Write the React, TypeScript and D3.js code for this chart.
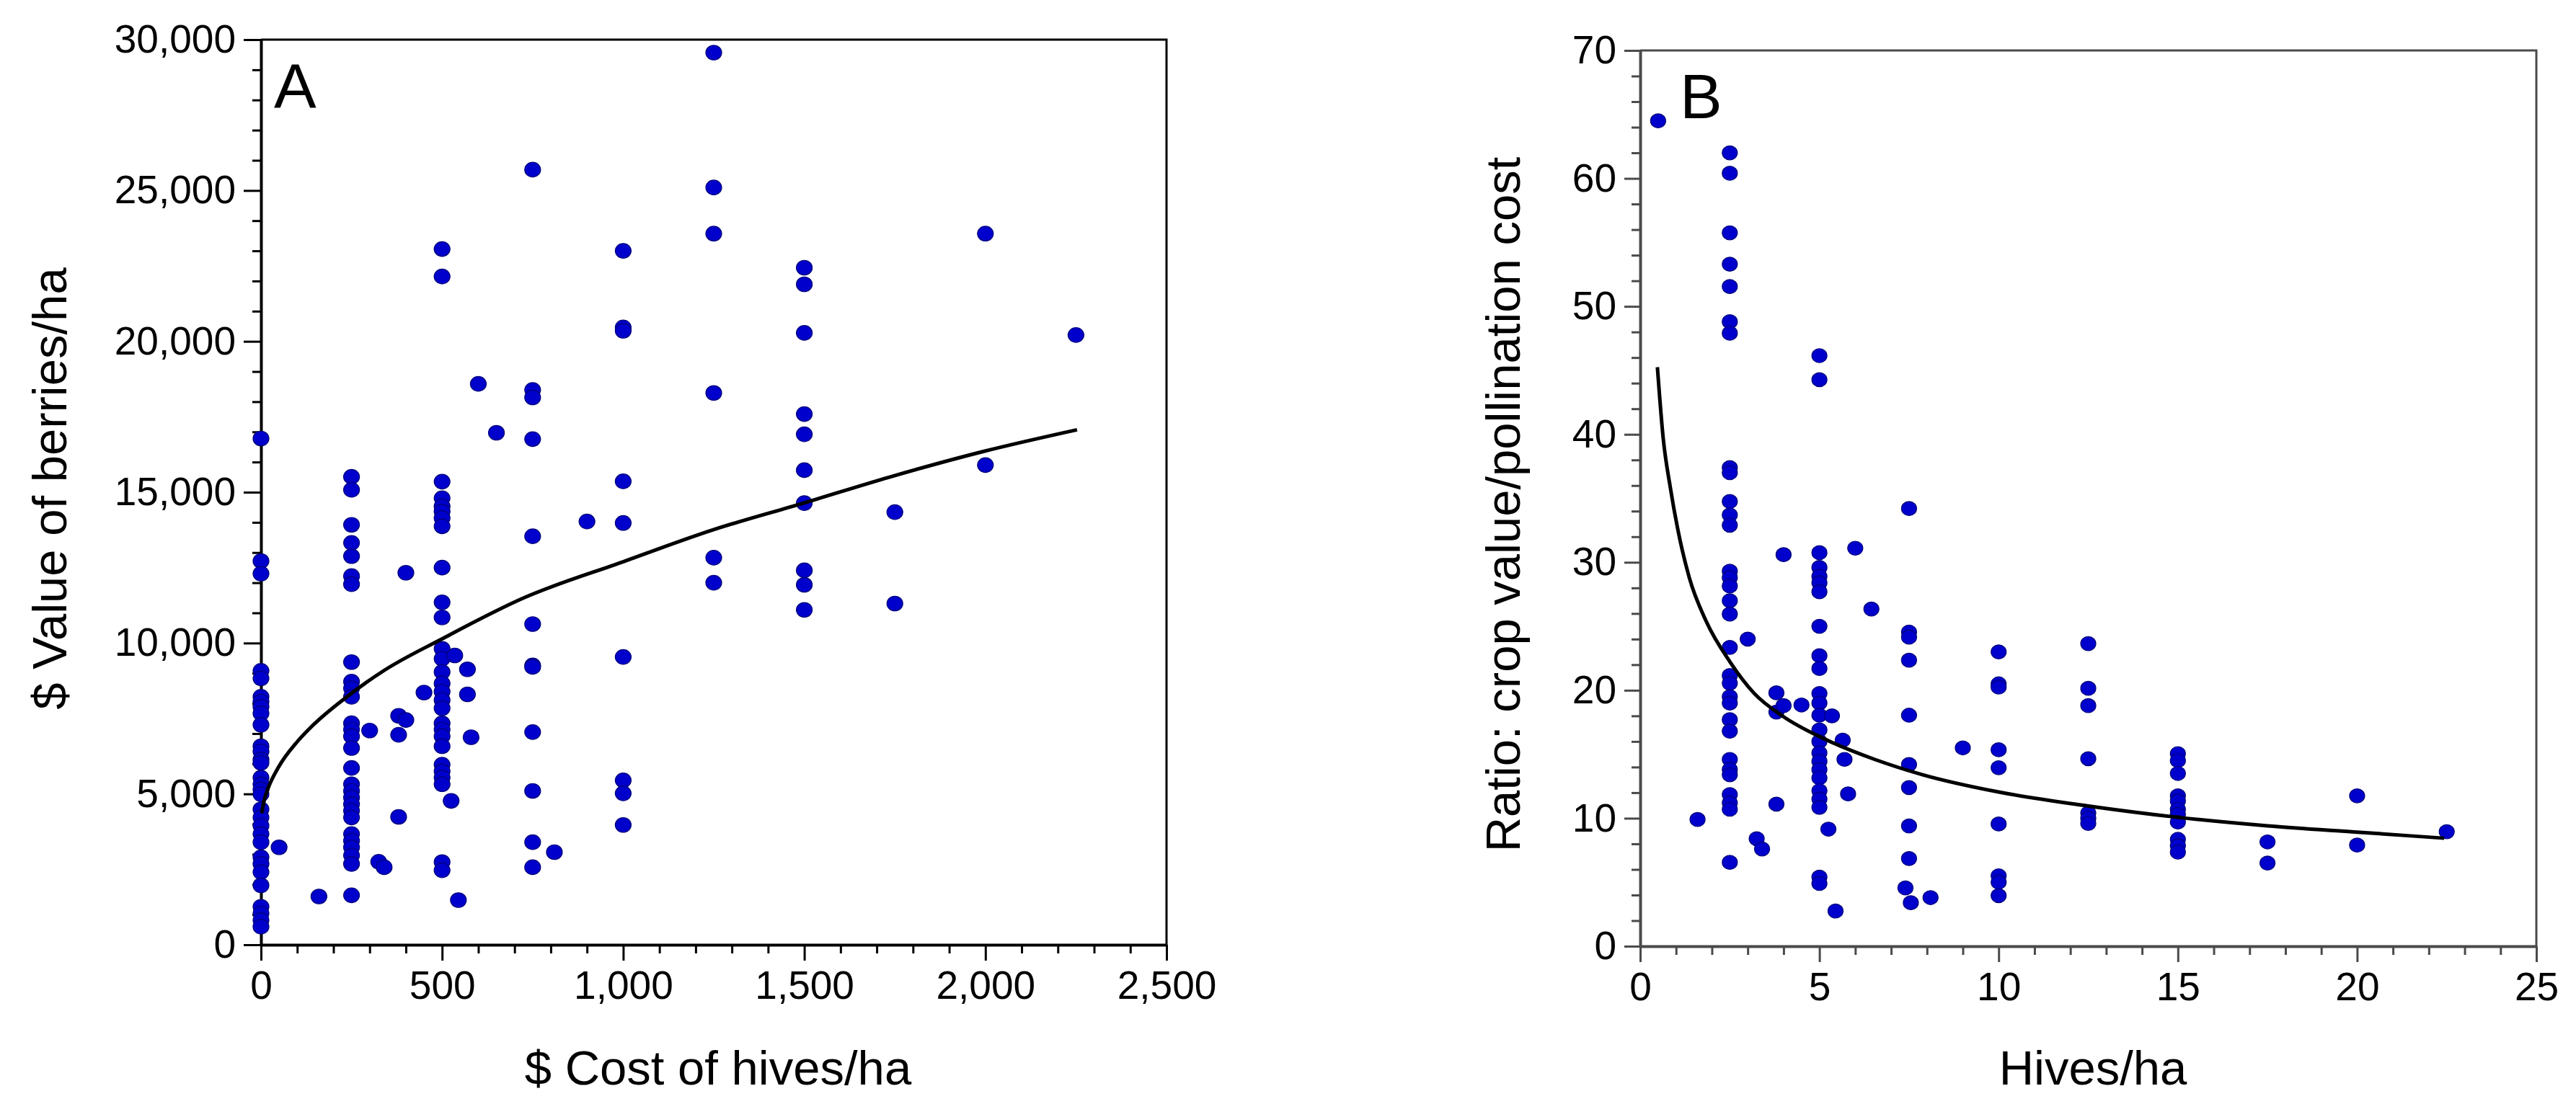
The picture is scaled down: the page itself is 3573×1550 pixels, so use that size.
import React, { useEffect, useRef } from "react";
import * as d3 from "d3";

const W = 3573;
const H = 1550;

// ---- Panel A: $ cost of hives/ha vs $ value of berries/ha ----
const pointsA: [number, number][] = [
  // no hives
  [0, 16780], [0, 12720], [0, 12300], [0, 9080], [0, 8830], [0, 8220], [0, 8060],
  [0, 7890], [0, 7670], [0, 7290], [0, 6580], [0, 6410], [0, 6140], [0, 6030],
  [0, 5540], [0, 5320], [0, 5150], [0, 4990], [0, 4490], [0, 4220], [0, 3950],
  [0, 3670], [0, 3400], [0, 2900], [0, 2680], [0, 2410], [0, 1970], [0, 1260],
  [0, 1040], [0, 820], [0, 600],
  [50, 3230], [160, 1600],
  // 250
  [250, 15510], [250, 15080], [250, 13920], [250, 13320], [250, 12880], [250, 12220],
  [250, 11950], [250, 9370], [250, 8720], [250, 8500], [250, 8220], [250, 7340],
  [250, 7130], [250, 6910], [250, 6520], [250, 5860], [250, 5320], [250, 5100],
  [250, 4880], [250, 4660], [250, 4440], [250, 4220], [250, 3670], [250, 3450],
  [250, 3230], [250, 2960], [250, 2680], [250, 1640],
  [300, 7100], [325, 2750], [340, 2570], [380, 7590], [400, 7450], [380, 6960],
  [400, 12330], [380, 4240], [450, 8360],
  // 500
  [500, 23060], [500, 22150], [500, 15350], [500, 14800], [500, 14530], [500, 14360],
  [500, 14140], [500, 13870], [500, 12500], [500, 11350], [500, 10850], [500, 9810],
  [500, 9480], [500, 9040], [500, 8660], [500, 8390], [500, 8110], [500, 7840],
  [500, 7340], [500, 7130], [500, 6910], [500, 6580], [500, 5970], [500, 5750],
  [500, 5540], [500, 5320], [500, 2740], [500, 2470],
  [535, 9590], [570, 9130], [570, 8300], [580, 6880], [525, 4770], [545, 1480],
  [600, 18590], [650, 16970],
  // 750
  [750, 25690], [750, 18390], [750, 18140], [750, 16760], [750, 13540], [750, 10630],
  [750, 9260], [750, 9210], [750, 7050], [750, 5100], [750, 3400], [750, 2570],
  [810, 3070], [900, 14030],
  // 1000
  [1000, 23000], [1000, 20460], [1000, 20350], [1000, 15360], [1000, 13980],
  [1000, 9540], [1000, 5450], [1000, 5020], [1000, 3970],
  // 1250
  [1250, 29570], [1250, 25100], [1250, 23570], [1250, 18290], [1250, 12830], [1250, 12000],
  // 1500
  [1500, 22440], [1500, 21890], [1500, 20280], [1500, 17590], [1500, 16920],
  [1500, 15730], [1500, 14640], [1500, 12410], [1500, 11930], [1500, 11100],
  // 1750 - 2250
  [1750, 14340], [1750, 11310], [2000, 23570], [2000, 15900], [2250, 20210],
];

// fitted curve
const fitCostA = [2, 10, 20, 49, 100, 142, 235, 341, 500, 726, 1001, 1250, 1498, 1735, 1994, 2253];
const fitValueA = [4360, 4840, 5200, 5900, 6730, 7260, 8200, 9100, 10140, 11500, 12700, 13760, 14640, 15500, 16350, 17070];

const xTicksA = [0, 500, 1000, 1500, 2000, 2500];
const yTicksA = [0, 5000, 10000, 15000, 20000, 25000, 30000];

// ---- Panel B: hives/ha vs ratio crop value / pollination cost ----
const pointsB: [number, number][] = [
  [0.5, 64.5],
  // 2.5 hives
  [2.5, 62.0], [2.5, 60.4], [2.5, 55.75], [2.5, 53.3], [2.5, 51.55], [2.5, 48.8],
  [2.5, 47.9], [2.5, 37.4], [2.5, 37.0], [2.5, 34.75], [2.5, 33.7], [2.5, 32.9],
  [2.5, 29.3], [2.5, 28.8], [2.5, 28.15], [2.5, 27.0], [2.5, 25.95], [2.5, 23.35],
  [2.5, 21.15], [2.5, 20.55], [2.5, 19.5], [2.5, 19.0], [2.5, 17.7], [2.5, 16.8],
  [2.5, 14.6], [2.5, 13.8], [2.5, 13.4], [2.5, 11.85], [2.5, 11.2], [2.5, 10.7], [2.5, 6.55],
  [1.6, 9.9], [3.0, 24.0], [3.25, 8.4], [3.4, 7.6], [3.8, 19.8], [3.8, 18.3],
  [4.0, 18.8], [4.5, 18.85], [4.0, 30.6], [3.8, 11.1],
  // 5 hives
  [5, 46.15], [5, 44.27], [5, 30.75], [5, 29.6], [5, 28.9], [5, 28.4], [5, 27.7],
  [5, 25.0], [5, 22.7], [5, 21.7], [5, 19.75], [5, 19.0], [5, 18.05], [5, 16.9],
  [5, 16.0], [5, 15.1], [5, 14.45], [5, 13.8], [5, 13.15], [5, 12.15], [5, 11.5],
  [5, 10.85], [5, 5.4], [5, 4.9],
  [5.35, 18.0], [5.25, 9.15], [5.45, 2.75], [5.65, 16.1], [5.7, 14.6], [5.8, 11.9],
  [6.0, 31.1], [6.45, 26.35],
  // 7.5 hives
  [7.5, 34.2], [7.5, 24.55], [7.5, 24.15], [7.5, 22.35], [7.5, 18.05], [7.5, 14.2],
  [7.5, 12.4], [7.5, 9.4], [7.5, 6.85], [7.4, 4.55], [7.55, 3.4],
  [8.1, 3.8], [9.0, 15.5],
  // 10
  [10, 23.0], [10, 20.5], [10, 20.25], [10, 15.35], [10, 13.95], [10, 9.55],
  [10, 5.5], [10, 5.0], [10, 3.95],
  // 12.5
  [12.5, 23.65], [12.5, 20.15], [12.5, 18.8], [12.5, 14.65], [12.5, 10.4],
  [12.5, 10.0], [12.5, 9.6],
  // 15
  [15, 15.05], [15, 14.5], [15, 13.5], [15, 11.75], [15, 11.35], [15, 10.7],
  [15, 10.3], [15, 9.7], [15, 8.35], [15, 7.85], [15, 7.35],
  // 17.5 - 22.5
  [17.5, 8.15], [17.5, 6.5], [20, 11.75], [20, 7.9], [22.5, 8.95],
];

const fitHivesB = [0.48, 0.64, 0.84, 1.04, 1.37, 1.84, 2.51, 3.18, 3.99, 5.19, 6.54, 7.88, 10.0, 12.47, 15.04, 17.5, 20.08, 22.43];
const fitRatioB = [45.25, 39.75, 35.85, 32.7, 28.8, 25.4, 22.2, 19.76, 17.95, 16.13, 14.6, 13.4, 12.05, 10.97, 10.06, 9.41, 8.9, 8.44];

const xTicksB = [0, 5, 10, 15, 20, 25];
const yTicksB = [0, 10, 20, 30, 40, 50, 60, 70];

const FONT = "'Liberation Sans', Arial, Helvetica, sans-serif";

type Panel = {
  left: number; right: number; top: number; bottom: number;
  xDomain: [number, number]; yDomain: [number, number];
  xTicks: number[]; yTicks: number[]; xMinor: number; yMinor: number;
  fmt: (n: number) => string;
  points: [number, number][];
  fitX: number[]; fitY: number[];
  xTitle: string; xTitleX: number;
  yTitle: string; yTitleX: number; yTitleY: number;
  letter: string; letterX: number; letterY: number;
  color: string; yTick: number; r: number;
};

function drawPanel(svg: any, p: Panel) {
  const x = d3.scaleLinear().domain(p.xDomain).range([p.left, p.right]);
  const y = d3.scaleLinear().domain(p.yDomain).range([p.bottom, p.top]);
  const g = svg.append("g");

  // top + right frame
  g.append("path")
    .attr("d", `M${p.left},${p.top}H${p.right}V${p.bottom}`)
    .attr("fill", "none")
    .attr("stroke", p.color)
    .attr("stroke-width", 3);

  const minorX = d3.range(p.xDomain[0], p.xDomain[1] + 1e-9, p.xMinor)
    .filter((v) => !p.xTicks.some((t) => Math.abs(t - v) < 1e-9));
  const minorY = d3.range(p.yDomain[0], p.yDomain[1] + 1e-9, p.yMinor)
    .filter((v) => !p.yTicks.some((t) => Math.abs(t - v) < 1e-9));

  const style = (s: any) => {
    s.selectAll("line").attr("stroke", p.color).attr("stroke-width", 3);
    s.selectAll(".domain").attr("stroke", p.color).attr("stroke-width", 4);
    s.selectAll("text")
      .attr("fill", "#000")
      .attr("font-family", FONT)
      .attr("font-size", 55);
  };

  g.append("g")
    .attr("transform", `translate(0,${p.bottom})`)
    .call(d3.axisBottom(x).tickValues(minorX).tickSize(12).tickFormat(() => ""))
    .call((s: any) => s.select(".domain").remove())
    .call(style);
  g.append("g")
    .attr("transform", `translate(${p.left},0)`)
    .call(d3.axisLeft(y).tickValues(minorY).tickSize(12).tickFormat(() => ""))
    .call((s: any) => s.select(".domain").remove())
    .call(style);

  g.append("g")
    .attr("transform", `translate(0,${p.bottom})`)
    .call(d3.axisBottom(x).tickValues(p.xTicks).tickSize(22).tickSizeOuter(0).tickPadding(14).tickFormat(p.fmt))
    .call(style);
  g.append("g")
    .attr("transform", `translate(${p.left},0)`)
    .call(d3.axisLeft(y).tickValues(p.yTicks).tickSize(p.yTick).tickSizeOuter(0).tickPadding(11).tickFormat(p.fmt))
    .call(style);

  // points
  g.append("g")
    .selectAll("ellipse")
    .data(p.points)
    .join("ellipse")
    .attr("cx", (d: [number, number]) => x(d[0]))
    .attr("cy", (d: [number, number]) => y(d[1]))
    .attr("rx", p.r)
    .attr("ry", p.r * 0.93)
    .attr("fill", "#0000cc")
    .attr("stroke", "#00007a")
    .attr("stroke-width", 1.2);

  // fitted curve
  const line = d3.line<number>()
    .x((_, i) => x(p.fitX[i]))
    .y((_, i) => y(p.fitY[i]))
    .curve(d3.curveMonotoneX);
  g.append("path")
    .attr("d", line(p.fitX))
    .attr("fill", "none")
    .attr("stroke", "#000")
    .attr("stroke-width", 5);

  // titles
  g.append("text")
    .attr("x", p.xTitleX)
    .attr("y", 1505)
    .attr("text-anchor", "middle")
    .attr("font-family", FONT)
    .attr("font-size", 67)
    .text(p.xTitle);
  g.append("text")
    .attr("transform", `translate(${p.yTitleX},${p.yTitleY}) rotate(-90)`)
    .attr("text-anchor", "middle")
    .attr("font-family", FONT)
    .attr("font-size", 67)
    .text(p.yTitle);
  g.append("text")
    .attr("x", p.letterX)
    .attr("y", p.letterY)
    .attr("font-family", FONT)
    .attr("font-size", 88)
    .text(p.letter);
}

export default function App() {
  const ref = useRef<SVGSVGElement>(null);

  useEffect(() => {
    document.body.style.margin = "0";
    const svg = d3.select(ref.current);
    svg.selectAll("*").remove();

    drawPanel(svg, {
      left: 362, right: 1618, top: 55, bottom: 1311,
      xDomain: [0, 2500], yDomain: [0, 30000],
      xTicks: xTicksA, yTicks: yTicksA, xMinor: 100, yMinor: 1000,
      fmt: d3.format(","),
      points: pointsA, fitX: fitCostA, fitY: fitValueA,
      xTitle: "$ Cost of hives/ha", xTitleX: 996,
      yTitle: "$ Value of berries/ha", yTitleX: 92, yTitleY: 678,
      letter: "A", letterX: 380, letterY: 150,
      color: "#000", yTick: 24, r: 11,
    });

    drawPanel(svg, {
      left: 2275, right: 3518, top: 70, bottom: 1313,
      xDomain: [0, 25], yDomain: [0, 70],
      xTicks: xTicksB, yTicks: yTicksB, xMinor: 1, yMinor: 2,
      fmt: d3.format("d"),
      points: pointsB, fitX: fitHivesB, fitY: fitRatioB,
      xTitle: "Hives/ha", xTitleX: 2903,
      yTitle: "Ratio: crop value/pollination cost", yTitleX: 2108, yTitleY: 700,
      letter: "B", letterX: 2330, letterY: 164,
      color: "#4a4a4a", yTick: 22, r: 10.5,
    });
  }, []);

  return (
    <svg
      ref={ref}
      width={W}
      height={H}
      style={{ display: "block", position: "absolute", left: 0, top: 0, background: "#fff" }}
    />
  );
}
